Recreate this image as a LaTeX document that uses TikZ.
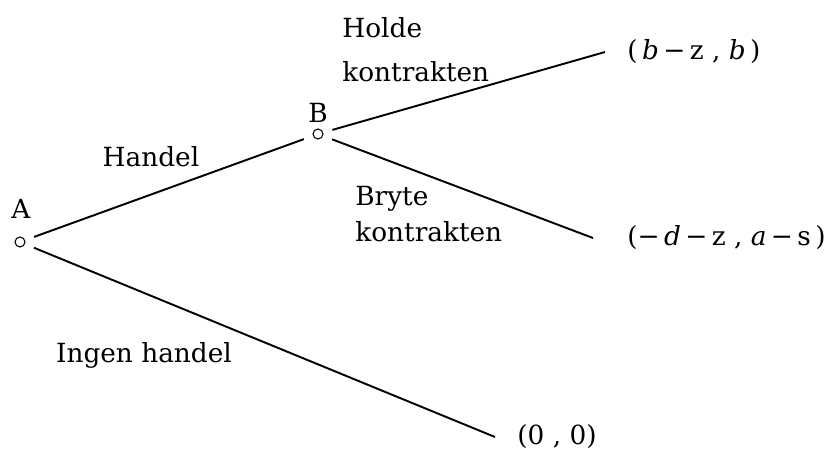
\documentclass[tikz,border=0pt]{standalone}
\usepackage{fontspec}
\setmainfont{DejaVu Serif}
\usetikzlibrary{positioning}
\tikzset{
  branch/.style={line width=1.1pt},
  choice/.style={circle,draw,line width=0.6pt,inner sep=0pt,minimum size=0.2cm,outer sep=0.2cm},
  payoff/.style={anchor=west,inner ysep=0.1cm,inner xsep=0.44cm,font=\fontsize{15}{18}\selectfont},
  move/.style={align=left,inner sep=0pt,font=\fontsize{15}{18}\selectfont}
}
\begin{document}
\begin{tikzpicture}[x=0.02cm,y=-0.02cm]
  \useasboundingbox (0,0) rectangle (827,450);
  % decision nodes
  \node[choice] (A) at (20,242) {};
  \node[choice] (B) at (318,134) {};
  \node[move] (Alab) at (21,209) {A};
  \node[move] (Blab) at (318,113) {B};

  % outcomes
  \node[payoff] (p1) at (605,52) {(\,\textit{b}\,−\,z , \textit{b}\,)};
  \node[payoff,inner xsep=0.68cm] (p2) at (593,238) {(−\,\textit{d}\,−\,z , \textit{a}\,−\,s\,)};
  \node[payoff] (p3) at (495,437) {(0 , 0)};

  % branches
  \draw[branch] (A) -- (B);
  \draw[branch] (B) -- (p1.west);
  \draw[branch] (B) -- (p2.west);
  \draw[branch] (A) -- (p3.west);

  % move labels
  \node[move] (handel) at (151,157) {Handel};
  \node[move,anchor=north west] (holde) at (342,17) {Holde\\[7pt]kontrakten};
  \node[move,anchor=north west] (bryte) at (355,186) {Bryte\\[2.4pt]kontrakten};
  \node[move] (ingen) at (144,355) {Ingen handel};
\end{tikzpicture}
\end{document}
